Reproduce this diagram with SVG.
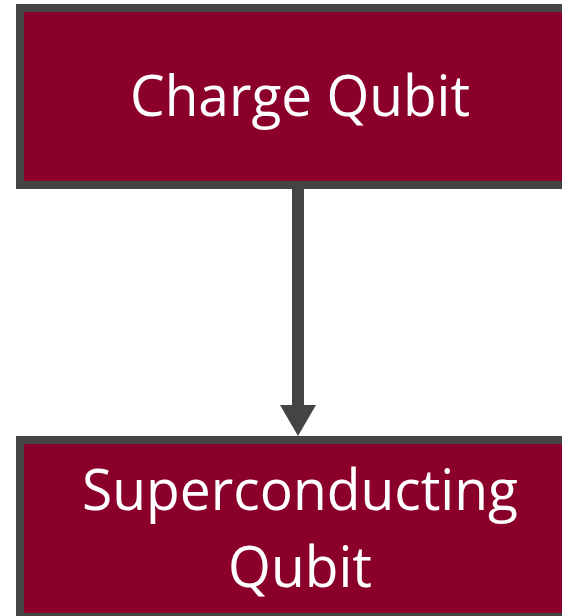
<svg xmlns="http://www.w3.org/2000/svg" width="562" height="616" viewBox="0 0 562 616">
<style>
.box{fill:#8A002A;stroke:#444444;stroke-width:8}
.lbl{fill:#FFFFFF;font-family:"Open Sans","Noto Sans","Liberation Sans",sans-serif;font-size:57px;text-anchor:middle}
</style>
<defs>
<marker id="ah" markerUnits="userSpaceOnUse" markerWidth="31" markerHeight="36" refX="1" refY="18" orient="auto" viewBox="0 0 31 36">
<path d="M0,0 L31,18 L0,36 Z" fill="#444444"/>
</marker>
</defs>
<rect width="562" height="616" fill="#FFFFFF"/>
<g id="connectors">
<line x1="298" y1="189" x2="298" y2="406" stroke="#444444" stroke-width="12" marker-end="url(#ah)"/>
</g>
<g id="node-charge">
<rect class="box" x="20" y="8" width="554" height="177"/>
<text class="lbl" x="300" y="116" textLength="340" lengthAdjust="spacingAndGlyphs">Charge Qubit</text>
</g>
<g id="node-superconducting">
<rect class="box" x="20" y="440" width="554" height="177"/>
<text class="lbl" x="300" y="510" textLength="436" lengthAdjust="spacingAndGlyphs">Superconducting</text>
<text class="lbl" x="300" y="587" textLength="144" lengthAdjust="spacingAndGlyphs">Qubit</text>
</g>
</svg>
